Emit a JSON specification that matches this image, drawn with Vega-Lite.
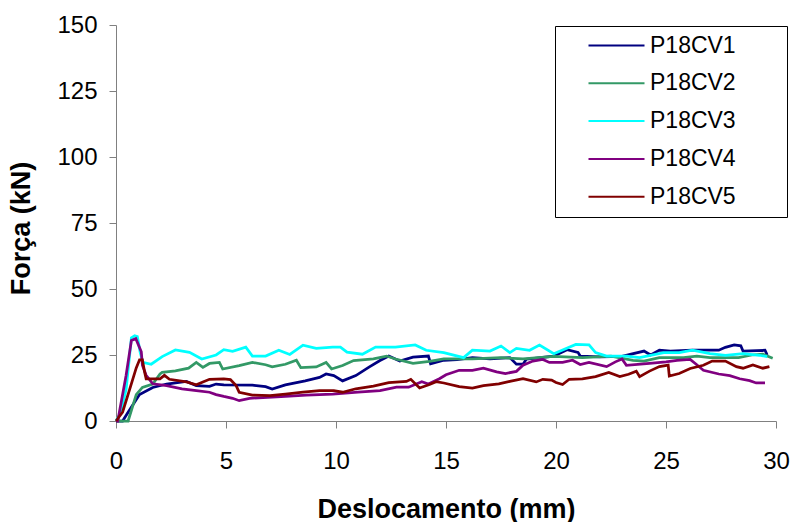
{
  "$schema": "https://vega.github.io/schema/vega-lite/v6.json",
  "width": 660,
  "height": 396,
  "autosize": {"type": "none"},
  "padding": {"left": 116, "top": 25, "right": 20, "bottom": 101},
  "background": "white",
  "config": {"view": {"stroke": null}, "font": "Liberation Sans"},
  "datasets": {
    "ensaios": [
      {"serie": "P18CV1", "desloc": 0, "forca": 0}, {"serie": "P18CV1", "desloc": 0.3, "forca": 0}, {"serie": "P18CV1", "desloc": 0.6, "forca": 4}, {"serie": "P18CV1", "desloc": 1.07, "forca": 10}, {"serie": "P18CV1", "desloc": 1.67, "forca": 12.7}, {"serie": "P18CV1", "desloc": 2.3, "forca": 14}, {"serie": "P18CV1", "desloc": 3.2, "forca": 15}, {"serie": "P18CV1", "desloc": 3.65, "forca": 13.4}, {"serie": "P18CV1", "desloc": 4.25, "forca": 13.1}, {"serie": "P18CV1", "desloc": 4.55, "forca": 14}, {"serie": "P18CV1", "desloc": 4.9, "forca": 13.7}, {"serie": "P18CV1", "desloc": 6.2, "forca": 13.6}, {"serie": "P18CV1", "desloc": 6.8, "forca": 13}, {"serie": "P18CV1", "desloc": 7.1, "forca": 12.1}, {"serie": "P18CV1", "desloc": 7.7, "forca": 13.7}, {"serie": "P18CV1", "desloc": 8.6, "forca": 15.2}, {"serie": "P18CV1", "desloc": 9.25, "forca": 16.5}, {"serie": "P18CV1", "desloc": 9.55, "forca": 17.8}, {"serie": "P18CV1", "desloc": 9.9, "forca": 17.2}, {"serie": "P18CV1", "desloc": 10.3, "forca": 15.2}, {"serie": "P18CV1", "desloc": 10.9, "forca": 17.2}, {"serie": "P18CV1", "desloc": 11.5, "forca": 20.4}, {"serie": "P18CV1", "desloc": 12, "forca": 22.9}, {"serie": "P18CV1", "desloc": 12.4, "forca": 24.6}, {"serie": "P18CV1", "desloc": 12.9, "forca": 22.7}, {"serie": "P18CV1", "desloc": 13.5, "forca": 24.2}, {"serie": "P18CV1", "desloc": 14.2, "forca": 24.6}, {"serie": "P18CV1", "desloc": 14.3, "forca": 21.7}, {"serie": "P18CV1", "desloc": 14.9, "forca": 23}, {"serie": "P18CV1", "desloc": 15.5, "forca": 23.2}, {"serie": "P18CV1", "desloc": 16.2, "forca": 24}, {"serie": "P18CV1", "desloc": 17, "forca": 23.5}, {"serie": "P18CV1", "desloc": 17.9, "forca": 24}, {"serie": "P18CV1", "desloc": 18.2, "forca": 21.5}, {"serie": "P18CV1", "desloc": 18.5, "forca": 21.5}, {"serie": "P18CV1", "desloc": 18.65, "forca": 23.4}, {"serie": "P18CV1", "desloc": 19.3, "forca": 24}, {"serie": "P18CV1", "desloc": 19.9, "forca": 24.6}, {"serie": "P18CV1", "desloc": 20.5, "forca": 27}, {"serie": "P18CV1", "desloc": 21, "forca": 26}, {"serie": "P18CV1", "desloc": 21.1, "forca": 24.6}, {"serie": "P18CV1", "desloc": 22, "forca": 24.3}, {"serie": "P18CV1", "desloc": 23, "forca": 24.5}, {"serie": "P18CV1", "desloc": 24, "forca": 26.5}, {"serie": "P18CV1", "desloc": 24.3, "forca": 25}, {"serie": "P18CV1", "desloc": 24.7, "forca": 26.8}, {"serie": "P18CV1", "desloc": 25.2, "forca": 26.5}, {"serie": "P18CV1", "desloc": 26.2, "forca": 26.8}, {"serie": "P18CV1", "desloc": 27.4, "forca": 26.8}, {"serie": "P18CV1", "desloc": 27.7, "forca": 27.9}, {"serie": "P18CV1", "desloc": 28.1, "forca": 28.8}, {"serie": "P18CV1", "desloc": 28.4, "forca": 28.5}, {"serie": "P18CV1", "desloc": 28.5, "forca": 26.5}, {"serie": "P18CV1", "desloc": 29.5, "forca": 26.8}, {"serie": "P18CV1", "desloc": 29.6, "forca": 25},

      {"serie": "P18CV2", "desloc": 0, "forca": 0}, {"serie": "P18CV2", "desloc": 0.55, "forca": 0}, {"serie": "P18CV2", "desloc": 0.92, "forca": 10}, {"serie": "P18CV2", "desloc": 1.2, "forca": 12.7}, {"serie": "P18CV2", "desloc": 1.67, "forca": 14}, {"serie": "P18CV2", "desloc": 2, "forca": 17.8}, {"serie": "P18CV2", "desloc": 2.1, "forca": 18.4}, {"serie": "P18CV2", "desloc": 2.7, "forca": 19}, {"serie": "P18CV2", "desloc": 3.3, "forca": 20}, {"serie": "P18CV2", "desloc": 3.65, "forca": 22.2}, {"serie": "P18CV2", "desloc": 3.95, "forca": 20.3}, {"serie": "P18CV2", "desloc": 4.25, "forca": 21.8}, {"serie": "P18CV2", "desloc": 4.7, "forca": 22.2}, {"serie": "P18CV2", "desloc": 4.85, "forca": 19.7}, {"serie": "P18CV2", "desloc": 5.6, "forca": 21}, {"serie": "P18CV2", "desloc": 6.2, "forca": 22.2}, {"serie": "P18CV2", "desloc": 6.8, "forca": 21.3}, {"serie": "P18CV2", "desloc": 7.1, "forca": 20.5}, {"serie": "P18CV2", "desloc": 7.7, "forca": 21.5}, {"serie": "P18CV2", "desloc": 8.2, "forca": 23}, {"serie": "P18CV2", "desloc": 8.4, "forca": 20.2}, {"serie": "P18CV2", "desloc": 9.1, "forca": 20.5}, {"serie": "P18CV2", "desloc": 9.55, "forca": 22.2}, {"serie": "P18CV2", "desloc": 9.8, "forca": 19.7}, {"serie": "P18CV2", "desloc": 10.3, "forca": 21}, {"serie": "P18CV2", "desloc": 10.8, "forca": 22.9}, {"serie": "P18CV2", "desloc": 11.7, "forca": 23.5}, {"serie": "P18CV2", "desloc": 12.3, "forca": 24.6}, {"serie": "P18CV2", "desloc": 12.7, "forca": 23.5}, {"serie": "P18CV2", "desloc": 13.5, "forca": 21.8}, {"serie": "P18CV2", "desloc": 14.25, "forca": 22.6}, {"serie": "P18CV2", "desloc": 14.9, "forca": 23.5}, {"serie": "P18CV2", "desloc": 16.2, "forca": 23.5}, {"serie": "P18CV2", "desloc": 17.5, "forca": 24}, {"serie": "P18CV2", "desloc": 18.5, "forca": 23.5}, {"serie": "P18CV2", "desloc": 19.9, "forca": 24.5}, {"serie": "P18CV2", "desloc": 21.2, "forca": 24}, {"serie": "P18CV2", "desloc": 22.5, "forca": 24.6}, {"serie": "P18CV2", "desloc": 23.5, "forca": 23}, {"serie": "P18CV2", "desloc": 24, "forca": 22.7}, {"serie": "P18CV2", "desloc": 24.7, "forca": 24}, {"serie": "P18CV2", "desloc": 25.8, "forca": 24}, {"serie": "P18CV2", "desloc": 26.4, "forca": 24.6}, {"serie": "P18CV2", "desloc": 27, "forca": 24}, {"serie": "P18CV2", "desloc": 28.3, "forca": 24}, {"serie": "P18CV2", "desloc": 28.9, "forca": 25}, {"serie": "P18CV2", "desloc": 29.4, "forca": 25.3}, {"serie": "P18CV2", "desloc": 29.85, "forca": 23.8},

      {"serie": "P18CV3", "desloc": 0, "forca": 0}, {"serie": "P18CV3", "desloc": 0.2, "forca": 3}, {"serie": "P18CV3", "desloc": 0.46, "forca": 12}, {"serie": "P18CV3", "desloc": 0.7, "forca": 31.5}, {"serie": "P18CV3", "desloc": 0.85, "forca": 32.3}, {"serie": "P18CV3", "desloc": 0.97, "forca": 32}, {"serie": "P18CV3", "desloc": 1.1, "forca": 26}, {"serie": "P18CV3", "desloc": 1.22, "forca": 22.2}, {"serie": "P18CV3", "desloc": 1.6, "forca": 21.5}, {"serie": "P18CV3", "desloc": 2.1, "forca": 24.4}, {"serie": "P18CV3", "desloc": 2.7, "forca": 26.9}, {"serie": "P18CV3", "desloc": 3.34, "forca": 26}, {"serie": "P18CV3", "desloc": 3.9, "forca": 23.5}, {"serie": "P18CV3", "desloc": 4.55, "forca": 25}, {"serie": "P18CV3", "desloc": 4.9, "forca": 27}, {"serie": "P18CV3", "desloc": 5.3, "forca": 26.4}, {"serie": "P18CV3", "desloc": 5.9, "forca": 28}, {"serie": "P18CV3", "desloc": 6.2, "forca": 24.6}, {"serie": "P18CV3", "desloc": 6.8, "forca": 24.6}, {"serie": "P18CV3", "desloc": 7.4, "forca": 26.8}, {"serie": "P18CV3", "desloc": 7.9, "forca": 25.2}, {"serie": "P18CV3", "desloc": 8.5, "forca": 28.7}, {"serie": "P18CV3", "desloc": 9.1, "forca": 27.5}, {"serie": "P18CV3", "desloc": 9.85, "forca": 28}, {"serie": "P18CV3", "desloc": 10.2, "forca": 28}, {"serie": "P18CV3", "desloc": 10.5, "forca": 26.1}, {"serie": "P18CV3", "desloc": 11.2, "forca": 25.3}, {"serie": "P18CV3", "desloc": 11.8, "forca": 28}, {"serie": "P18CV3", "desloc": 12.7, "forca": 28}, {"serie": "P18CV3", "desloc": 13.6, "forca": 28.8}, {"serie": "P18CV3", "desloc": 14.1, "forca": 26.8}, {"serie": "P18CV3", "desloc": 14.9, "forca": 25.9}, {"serie": "P18CV3", "desloc": 15.8, "forca": 24}, {"serie": "P18CV3", "desloc": 16.2, "forca": 26.8}, {"serie": "P18CV3", "desloc": 17, "forca": 26.5}, {"serie": "P18CV3", "desloc": 17.5, "forca": 28.4}, {"serie": "P18CV3", "desloc": 17.9, "forca": 25.9}, {"serie": "P18CV3", "desloc": 18.2, "forca": 27.5}, {"serie": "P18CV3", "desloc": 18.8, "forca": 26.8}, {"serie": "P18CV3", "desloc": 19.25, "forca": 28.8}, {"serie": "P18CV3", "desloc": 19.9, "forca": 25.5}, {"serie": "P18CV3", "desloc": 20.9, "forca": 29}, {"serie": "P18CV3", "desloc": 21.5, "forca": 28.8}, {"serie": "P18CV3", "desloc": 21.8, "forca": 25.9}, {"serie": "P18CV3", "desloc": 22.3, "forca": 24.6}, {"serie": "P18CV3", "desloc": 23.2, "forca": 24.6}, {"serie": "P18CV3", "desloc": 23.8, "forca": 24}, {"serie": "P18CV3", "desloc": 24.9, "forca": 25.9}, {"serie": "P18CV3", "desloc": 25.6, "forca": 25.9}, {"serie": "P18CV3", "desloc": 26.2, "forca": 26.8}, {"serie": "P18CV3", "desloc": 27, "forca": 25.5}, {"serie": "P18CV3", "desloc": 27.7, "forca": 24.9}, {"serie": "P18CV3", "desloc": 28.5, "forca": 25.5}, {"serie": "P18CV3", "desloc": 29.25, "forca": 24.9}, {"serie": "P18CV3", "desloc": 29.6, "forca": 24.4},

      {"serie": "P18CV4", "desloc": 0, "forca": 0}, {"serie": "P18CV4", "desloc": 0.08, "forca": 0}, {"serie": "P18CV4", "desloc": 0.46, "forca": 17.3}, {"serie": "P18CV4", "desloc": 0.7, "forca": 30.5}, {"serie": "P18CV4", "desloc": 0.9, "forca": 31.2}, {"serie": "P18CV4", "desloc": 1.15, "forca": 26.2}, {"serie": "P18CV4", "desloc": 1.2, "forca": 21.1}, {"serie": "P18CV4", "desloc": 1.37, "forca": 17.3}, {"serie": "P18CV4", "desloc": 1.67, "forca": 14.1}, {"serie": "P18CV4", "desloc": 2.3, "forca": 13.4}, {"serie": "P18CV4", "desloc": 3, "forca": 12.2}, {"serie": "P18CV4", "desloc": 3.65, "forca": 11.5}, {"serie": "P18CV4", "desloc": 4.25, "forca": 10.9}, {"serie": "P18CV4", "desloc": 4.55, "forca": 10}, {"serie": "P18CV4", "desloc": 4.9, "forca": 9.3}, {"serie": "P18CV4", "desloc": 5.3, "forca": 8.6}, {"serie": "P18CV4", "desloc": 5.6, "forca": 7.7}, {"serie": "P18CV4", "desloc": 6.07, "forca": 8.6}, {"serie": "P18CV4", "desloc": 7.1, "forca": 9}, {"serie": "P18CV4", "desloc": 7.7, "forca": 9.3}, {"serie": "P18CV4", "desloc": 8.65, "forca": 9.8}, {"serie": "P18CV4", "desloc": 9.85, "forca": 10.2}, {"serie": "P18CV4", "desloc": 11, "forca": 10.9}, {"serie": "P18CV4", "desloc": 12, "forca": 11.5}, {"serie": "P18CV4", "desloc": 12.75, "forca": 12.8}, {"serie": "P18CV4", "desloc": 13.3, "forca": 12.8}, {"serie": "P18CV4", "desloc": 13.9, "forca": 14.9}, {"serie": "P18CV4", "desloc": 14.2, "forca": 14}, {"serie": "P18CV4", "desloc": 14.7, "forca": 16}, {"serie": "P18CV4", "desloc": 15, "forca": 17.5}, {"serie": "P18CV4", "desloc": 15.6, "forca": 19.2}, {"serie": "P18CV4", "desloc": 16.2, "forca": 19.2}, {"serie": "P18CV4", "desloc": 16.7, "forca": 20}, {"serie": "P18CV4", "desloc": 17.3, "forca": 18.6}, {"serie": "P18CV4", "desloc": 17.7, "forca": 18}, {"serie": "P18CV4", "desloc": 18.2, "forca": 18.8}, {"serie": "P18CV4", "desloc": 18.5, "forca": 21.1}, {"serie": "P18CV4", "desloc": 18.95, "forca": 22.7}, {"serie": "P18CV4", "desloc": 19.4, "forca": 23.3}, {"serie": "P18CV4", "desloc": 19.7, "forca": 22.2}, {"serie": "P18CV4", "desloc": 20.3, "forca": 22.2}, {"serie": "P18CV4", "desloc": 20.75, "forca": 23}, {"serie": "P18CV4", "desloc": 21.1, "forca": 21.4}, {"serie": "P18CV4", "desloc": 21.5, "forca": 22.2}, {"serie": "P18CV4", "desloc": 22.3, "forca": 20.6}, {"serie": "P18CV4", "desloc": 22.7, "forca": 22.4}, {"serie": "P18CV4", "desloc": 23, "forca": 23.5}, {"serie": "P18CV4", "desloc": 23.2, "forca": 21.1}, {"serie": "P18CV4", "desloc": 24.25, "forca": 21.8}, {"serie": "P18CV4", "desloc": 25, "forca": 22.4}, {"serie": "P18CV4", "desloc": 25.5, "forca": 23}, {"serie": "P18CV4", "desloc": 26.1, "forca": 23.3}, {"serie": "P18CV4", "desloc": 26.4, "forca": 21.3}, {"serie": "P18CV4", "desloc": 26.7, "forca": 19.2}, {"serie": "P18CV4", "desloc": 27.4, "forca": 17.8}, {"serie": "P18CV4", "desloc": 27.9, "forca": 17.2}, {"serie": "P18CV4", "desloc": 28.35, "forca": 16}, {"serie": "P18CV4", "desloc": 28.8, "forca": 15.3}, {"serie": "P18CV4", "desloc": 29.1, "forca": 14.4}, {"serie": "P18CV4", "desloc": 29.5, "forca": 14.4},

      {"serie": "P18CV5", "desloc": 0, "forca": 0}, {"serie": "P18CV5", "desloc": 0.3, "forca": 3.4}, {"serie": "P18CV5", "desloc": 0.6, "forca": 11.4}, {"serie": "P18CV5", "desloc": 0.92, "forca": 20.1}, {"serie": "P18CV5", "desloc": 1.07, "forca": 23.2}, {"serie": "P18CV5", "desloc": 1.2, "forca": 23.2}, {"serie": "P18CV5", "desloc": 1.3, "forca": 18.6}, {"serie": "P18CV5", "desloc": 1.37, "forca": 16}, {"serie": "P18CV5", "desloc": 2, "forca": 16}, {"serie": "P18CV5", "desloc": 2.2, "forca": 17.3}, {"serie": "P18CV5", "desloc": 2.43, "forca": 15.8}, {"serie": "P18CV5", "desloc": 3.2, "forca": 14.8}, {"serie": "P18CV5", "desloc": 3.65, "forca": 13.7}, {"serie": "P18CV5", "desloc": 3.95, "forca": 14.8}, {"serie": "P18CV5", "desloc": 4.25, "forca": 15.8}, {"serie": "P18CV5", "desloc": 4.9, "forca": 16}, {"serie": "P18CV5", "desloc": 5.2, "forca": 15.7}, {"serie": "P18CV5", "desloc": 5.46, "forca": 13.4}, {"serie": "P18CV5", "desloc": 5.6, "forca": 10.9}, {"serie": "P18CV5", "desloc": 6.2, "forca": 9.8}, {"serie": "P18CV5", "desloc": 7, "forca": 9.6}, {"serie": "P18CV5", "desloc": 7.7, "forca": 10.2}, {"serie": "P18CV5", "desloc": 8.5, "forca": 10.9}, {"serie": "P18CV5", "desloc": 9.25, "forca": 11.5}, {"serie": "P18CV5", "desloc": 9.9, "forca": 11.5}, {"serie": "P18CV5", "desloc": 10.3, "forca": 10.9}, {"serie": "P18CV5", "desloc": 10.9, "forca": 12.2}, {"serie": "P18CV5", "desloc": 11.7, "forca": 13.2}, {"serie": "P18CV5", "desloc": 12.4, "forca": 14.5}, {"serie": "P18CV5", "desloc": 13.2, "forca": 15}, {"serie": "P18CV5", "desloc": 13.4, "forca": 15.8}, {"serie": "P18CV5", "desloc": 13.8, "forca": 12.5}, {"serie": "P18CV5", "desloc": 14.25, "forca": 13.8}, {"serie": "P18CV5", "desloc": 14.55, "forca": 14.9}, {"serie": "P18CV5", "desloc": 14.9, "forca": 14.4}, {"serie": "P18CV5", "desloc": 15.6, "forca": 13}, {"serie": "P18CV5", "desloc": 16.2, "forca": 12.5}, {"serie": "P18CV5", "desloc": 16.7, "forca": 13.4}, {"serie": "P18CV5", "desloc": 17.4, "forca": 14.1}, {"serie": "P18CV5", "desloc": 17.9, "forca": 15}, {"serie": "P18CV5", "desloc": 18.5, "forca": 16}, {"serie": "P18CV5", "desloc": 19.1, "forca": 14.8}, {"serie": "P18CV5", "desloc": 19.4, "forca": 15.8}, {"serie": "P18CV5", "desloc": 19.8, "forca": 15.5}, {"serie": "P18CV5", "desloc": 20, "forca": 14.6}, {"serie": "P18CV5", "desloc": 20.3, "forca": 13.8}, {"serie": "P18CV5", "desloc": 20.6, "forca": 15.8}, {"serie": "P18CV5", "desloc": 21.2, "forca": 16}, {"serie": "P18CV5", "desloc": 21.8, "forca": 16.8}, {"serie": "P18CV5", "desloc": 22.4, "forca": 18.4}, {"serie": "P18CV5", "desloc": 22.9, "forca": 16.8}, {"serie": "P18CV5", "desloc": 23.3, "forca": 17.7}, {"serie": "P18CV5", "desloc": 23.65, "forca": 18.9}, {"serie": "P18CV5", "desloc": 23.8, "forca": 16.8}, {"serie": "P18CV5", "desloc": 24.25, "forca": 18.9}, {"serie": "P18CV5", "desloc": 24.7, "forca": 20.6}, {"serie": "P18CV5", "desloc": 25.1, "forca": 21.2}, {"serie": "P18CV5", "desloc": 25.15, "forca": 17}, {"serie": "P18CV5", "desloc": 25.6, "forca": 18}, {"serie": "P18CV5", "desloc": 26.1, "forca": 19.9}, {"serie": "P18CV5", "desloc": 26.7, "forca": 21.1}, {"serie": "P18CV5", "desloc": 27.1, "forca": 22.7}, {"serie": "P18CV5", "desloc": 27.7, "forca": 22.7}, {"serie": "P18CV5", "desloc": 28.2, "forca": 20.6}, {"serie": "P18CV5", "desloc": 28.5, "forca": 20}, {"serie": "P18CV5", "desloc": 28.95, "forca": 21.2}, {"serie": "P18CV5", "desloc": 29.4, "forca": 20}, {"serie": "P18CV5", "desloc": 29.7, "forca": 20.6}
    ]
  },
  "data": {"name": "ensaios"},
  "mark": {"type": "line", "strokeWidth": 2.75, "strokeJoin": "miter"},
  "encoding": {
    "x": {
      "field": "desloc",
      "type": "quantitative",
      "scale": {"domain": [0, 30], "nice": false, "zero": false},
      "axis": {
        "values": [0, 5, 10, 15, 20, 25, 30],
        "title": "Deslocamento (mm)",
        "titleFont": "Liberation Sans",
        "titleFontSize": 27,
        "titleFontWeight": "bold",
        "titleColor": "black",
        "titleBaseline": "alphabetic",
        "titleY": 96,
        "labelFont": "Liberation Sans",
        "labelFontSize": 24,
        "labelColor": "black",
        "labelPadding": 21,
        "labelFlush": false,
        "labelOverlap": false,
        "tickSize": 7,
        "tickColor": "#808080",
        "domainColor": "#808080",
        "grid": false
      }
    },
    "y": {
      "field": "forca",
      "type": "quantitative",
      "scale": {"domain": [0, 150], "nice": false},
      "axis": {
        "values": [0, 25, 50, 75, 100, 125, 150],
        "title": "Força (kN)",
        "titleFont": "Liberation Sans",
        "titleFontSize": 27,
        "titleFontWeight": "bold",
        "titleColor": "black",
        "titleBaseline": "alphabetic",
        "titleX": -87,
        "titleY": 203,
        "labelFont": "Liberation Sans",
        "labelFontSize": 24,
        "labelColor": "black",
        "labelPadding": 12,
        "labelFlush": false,
        "labelOverlap": false,
        "tickSize": 7,
        "tickColor": "#808080",
        "domainColor": "#808080",
        "grid": false
      }
    },
    "color": {
      "field": "serie",
      "type": "nominal",
      "scale": {
        "domain": ["P18CV1", "P18CV2", "P18CV3", "P18CV4", "P18CV5"],
        "range": ["#000080", "#339966", "#00FFFF", "#800080", "#800000"]
      },
      "legend": {
        "orient": "none",
        "legendX": 439,
        "legendY": 1,
        "title": null,
        "padding": 8,
        "rowPadding": 13.8,
        "strokeColor": "black",
        "fillColor": "white",
        "symbolType": "M-2.8,0H2.8M15.8,0",
        "symbolSize": 400,
        "symbolStrokeWidth": 2,
        "symbolOffset": 42,
        "labelOffset": 22,
        "labelFont": "Liberation Sans",
        "labelFontSize": 23,
        "labelColor": "black"
      }
    }
  }
}
